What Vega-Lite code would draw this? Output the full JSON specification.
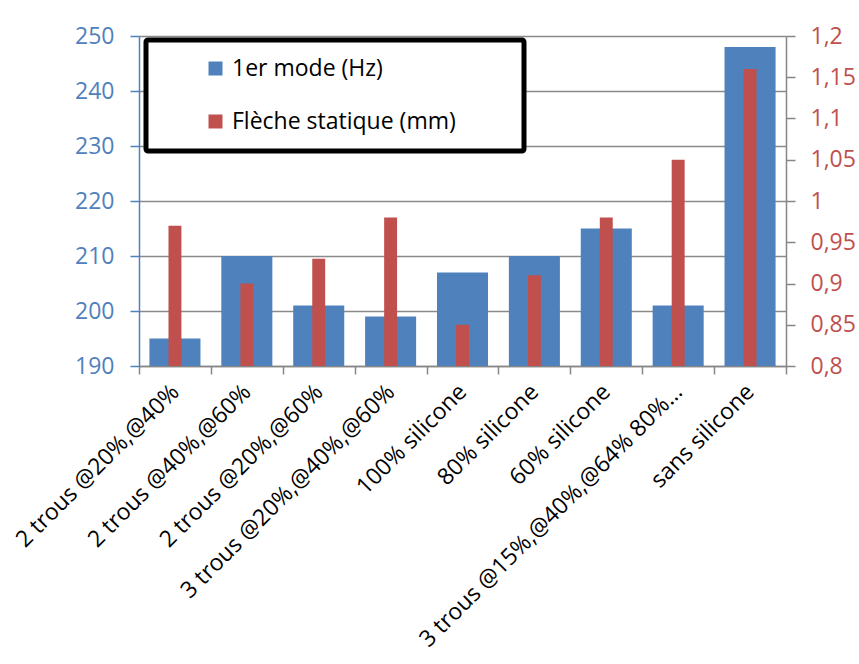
{
  "$schema": "https://vega.github.io/schema/vega-lite/v6.json",
  "width": 647,
  "height": 330,
  "autosize": "none",
  "padding": {"left": 139, "top": 36, "right": 73, "bottom": 298},
  "background": "white",
  "config": {
    "font": "Open Sans",
    "view": {"stroke": null},
    "axis": {"labelFont": "Open Sans", "labelFontSize": 23},
    "legend": {
      "strokeColor": "black",
      "strokeWidth": 5,
      "cornerRadius": 2,
      "fillColor": "white",
      "padding": 17,
      "labelFont": "Open Sans",
      "labelFontSize": 23,
      "labelColor": "black",
      "symbolType": "square",
      "symbolSize": 196,
      "symbolStrokeWidth": 0,
      "symbolOffset": 41,
      "labelOffset": 5,
      "rowPadding": 29,
      "labelLimit": 600
    }
  },
  "data": {
    "values": [
      {"cat": "2 trous @20%,@40%", "mode": 195, "fleche": 0.97},
      {"cat": "2 trous @40%,@60%", "mode": 210, "fleche": 0.90},
      {"cat": "2 trous @20%,@60%", "mode": 201, "fleche": 0.93},
      {"cat": "3 trous @20%,@40%,@60%", "mode": 199, "fleche": 0.98},
      {"cat": "100% silicone", "mode": 207, "fleche": 0.85},
      {"cat": "80% silicone", "mode": 210, "fleche": 0.91},
      {"cat": "60% silicone", "mode": 215, "fleche": 0.98},
      {"cat": "3 trous @15%,@40%,@64% 80%…", "mode": 201, "fleche": 1.05},
      {"cat": "sans silicone", "mode": 248, "fleche": 1.16}
    ]
  },
  "encoding": {
    "x": {
      "field": "cat",
      "type": "nominal",
      "sort": null,
      "scale": {"paddingInner": 0, "paddingOuter": 0},
      "axis": {
        "title": null,
        "labelAngle": -45,
        "labelAlign": "right",
        "labelBaseline": "middle",
        "labelPadding": 14,
        "labelColor": "black",
        "labelLimit": 500,
        "labelOverlap": false,
        "domainColor": "#868686",
        "domainWidth": 1.5,
        "tickColor": "#868686",
        "tickWidth": 1.5,
        "tickSize": 8,
        "tickBand": "extent",
        "grid": false
      }
    }
  },
  "layer": [
    {
      "mark": {"type": "bar", "width": {"band": 0.71}, "clip": true},
      "encoding": {
        "y": {
          "field": "mode",
          "type": "quantitative",
          "scale": {"domain": [190, 250], "nice": false, "zero": false},
          "axis": {
            "title": null,
            "orient": "left",
            "values": [190, 200, 210, 220, 230, 240, 250],
            "labelColor": "#4F81BD",
            "domainColor": "#4F81BD",
            "domainWidth": 1.5,
            "tickColor": "#4F81BD",
            "tickWidth": 1.5,
            "tickSize": 9,
            "labelPadding": 16,
            "grid": true,
            "gridColor": "#8a8a8a",
            "gridWidth": 1.5
          }
        },
        "color": {
          "datum": "1er mode (Hz)",
          "scale": {"domain": ["1er mode (Hz)", "Flèche statique (mm)"], "range": ["#4F81BD", "#C0504D"]},
          "legend": {
            "title": null,
            "orient": "none",
            "legendX": 7,
            "legendY": 4,
            "labelExpr": "datum.label + '\u2800\u2800\u2800'"
          }
        }
      }
    },
    {
      "mark": {"type": "bar", "width": {"band": 0.18}, "clip": true},
      "encoding": {
        "y": {
          "field": "fleche",
          "type": "quantitative",
          "scale": {"domain": [0.8, 1.2], "nice": false, "zero": false},
          "axis": {
            "title": null,
            "orient": "right",
            "values": [0.8, 0.85, 0.9, 0.95, 1, 1.05, 1.1, 1.15, 1.2],
            "labelExpr": "replace(format(datum.value, '.2~f'), '.', ',')",
            "labelColor": "#C0504D",
            "domainColor": "#868686",
            "domainWidth": 1.5,
            "tickColor": "#868686",
            "tickWidth": 1.5,
            "tickSize": 9,
            "labelPadding": 15,
            "grid": false
          }
        },
        "color": {"datum": "Flèche statique (mm)"}
      }
    }
  ],
  "resolve": {"scale": {"y": "independent"}}
}
